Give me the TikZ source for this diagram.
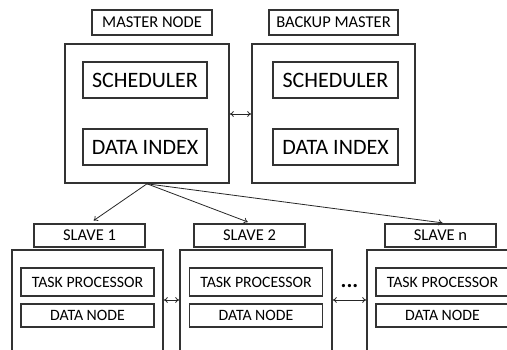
\documentclass[tikz,border=0pt]{standalone}
\usepackage{fontspec}
\setmainfont{Carlito}
\usepackage{tikz}
\usetikzlibrary{positioning,arrows.meta}

\begin{document}
\begin{tikzpicture}[x=1pt, y=-1pt,
        outer/.style={draw=black!80, line width=1.6pt, rectangle, minimum width=164pt,
                      minimum height=139pt},
        sbox/.style={draw=black!80, line width=1.6pt, rectangle, minimum width=152pt,
                     minimum height=105pt},
        title/.style={draw=black!80, line width=1.2pt, rectangle, minimum height=25pt,
                      inner sep=0pt, font=\fontsize{16.5}{18}\selectfont},
        inner/.style={draw=black!80, line width=1.2pt, rectangle, minimum width=124pt,
                      minimum height=36pt, inner sep=0pt, font=\fontsize{22}{24}\selectfont},
        part/.style={draw=black!80, line width=1.2pt, rectangle, minimum width=133pt,
                     inner sep=0pt, font=\fontsize{15.8}{18}\selectfont},
        dep/.style={-{To[length=4pt,width=6pt]}, line width=0.8pt, draw=black!85},
        link/.style={{To[length=4pt,width=6pt]}-{To[length=4pt,width=6pt]},
                     line width=0.8pt, draw=black!85}
    ]
        \clip (0,0) rectangle (507,349);

        % masters
        \node[title, minimum width=120pt] (mlabel) at (152,22.5) {MASTER NODE};
        \node[title, minimum width=129pt] (blabel) at (333.5,22.5) {BACKUP MASTER};
        \node[outer] (master) at (147,113.5) {};
        \node[outer, minimum width=163pt] (backup) at (333.5,113.5) {};
        \node[inner] (msched) at (145,80) {SCHEDULER\hspace{7pt}};
        \node[inner] (mindex) at (145,147) {DATA INDEX\hspace{7pt}};
        \node[inner, minimum width=125pt] (bsched) at (335.5,80) {SCHEDULER\hspace{7pt}};
        \node[inner, minimum width=125pt] (bindex) at (335.5,147) {DATA INDEX\hspace{7pt}};

        % slaves
        \node[title, minimum width=111pt, minimum height=23pt] (s1label) at (89.5,235.5) {SLAVE 1};
        \node[title, minimum width=111pt, minimum height=23pt] (s2label) at (249.5,235.5) {SLAVE 2};
        \node[title, minimum width=111pt, minimum height=23pt] (snlabel) at (440.5,235.5) {SLAVE n};
        \node[sbox, minimum width=151pt] (slave1) at (87.5,302.5) {};
        \node[sbox] (slave2) at (256,302.5) {};
        \node[sbox] (slaven) at (443,302.5) {};
        \node[part, minimum height=28pt] (task1) at (87.5,282) {TASK PROCESSOR};
        \node[part, minimum height=28pt] (task2) at (256,282) {TASK PROCESSOR};
        \node[part, minimum height=28pt] (taskn) at (442.5,282) {TASK PROCESSOR};
        \node[part, minimum height=23pt] (data1) at (87.5,315.5) {DATA NODE};
        \node[part, minimum height=23pt] (data2) at (256,315.5) {DATA NODE};
        \node[part, minimum height=23pt] (datan) at (442.5,315.5) {DATA NODE};
        \node[font=\fontsize{22}{24}\selectfont\bfseries] (dots) at (349.5,286) {...};

        \coordinate (mrow) at (0,114);
        \coordinate (srow) at (0,300);

        \draw[link] (master.east |- mrow) -- (backup.west |- mrow);
        \draw[link] (slave1.east |- srow) -- (slave2.west |- srow);
        \draw[link] (slave2.east |- srow) -- (slaven.west |- srow);

        \draw[dep, shorten >=5pt] (master.south) -- (s1label.north);
        \draw[dep, shorten >=4pt] (master.south) -- ([xshift=2pt]s2label.north);
        \draw[dep, shorten >=4pt] (master.south) -- ([xshift=6pt]snlabel.north);
    \end{tikzpicture}
\end{document}
